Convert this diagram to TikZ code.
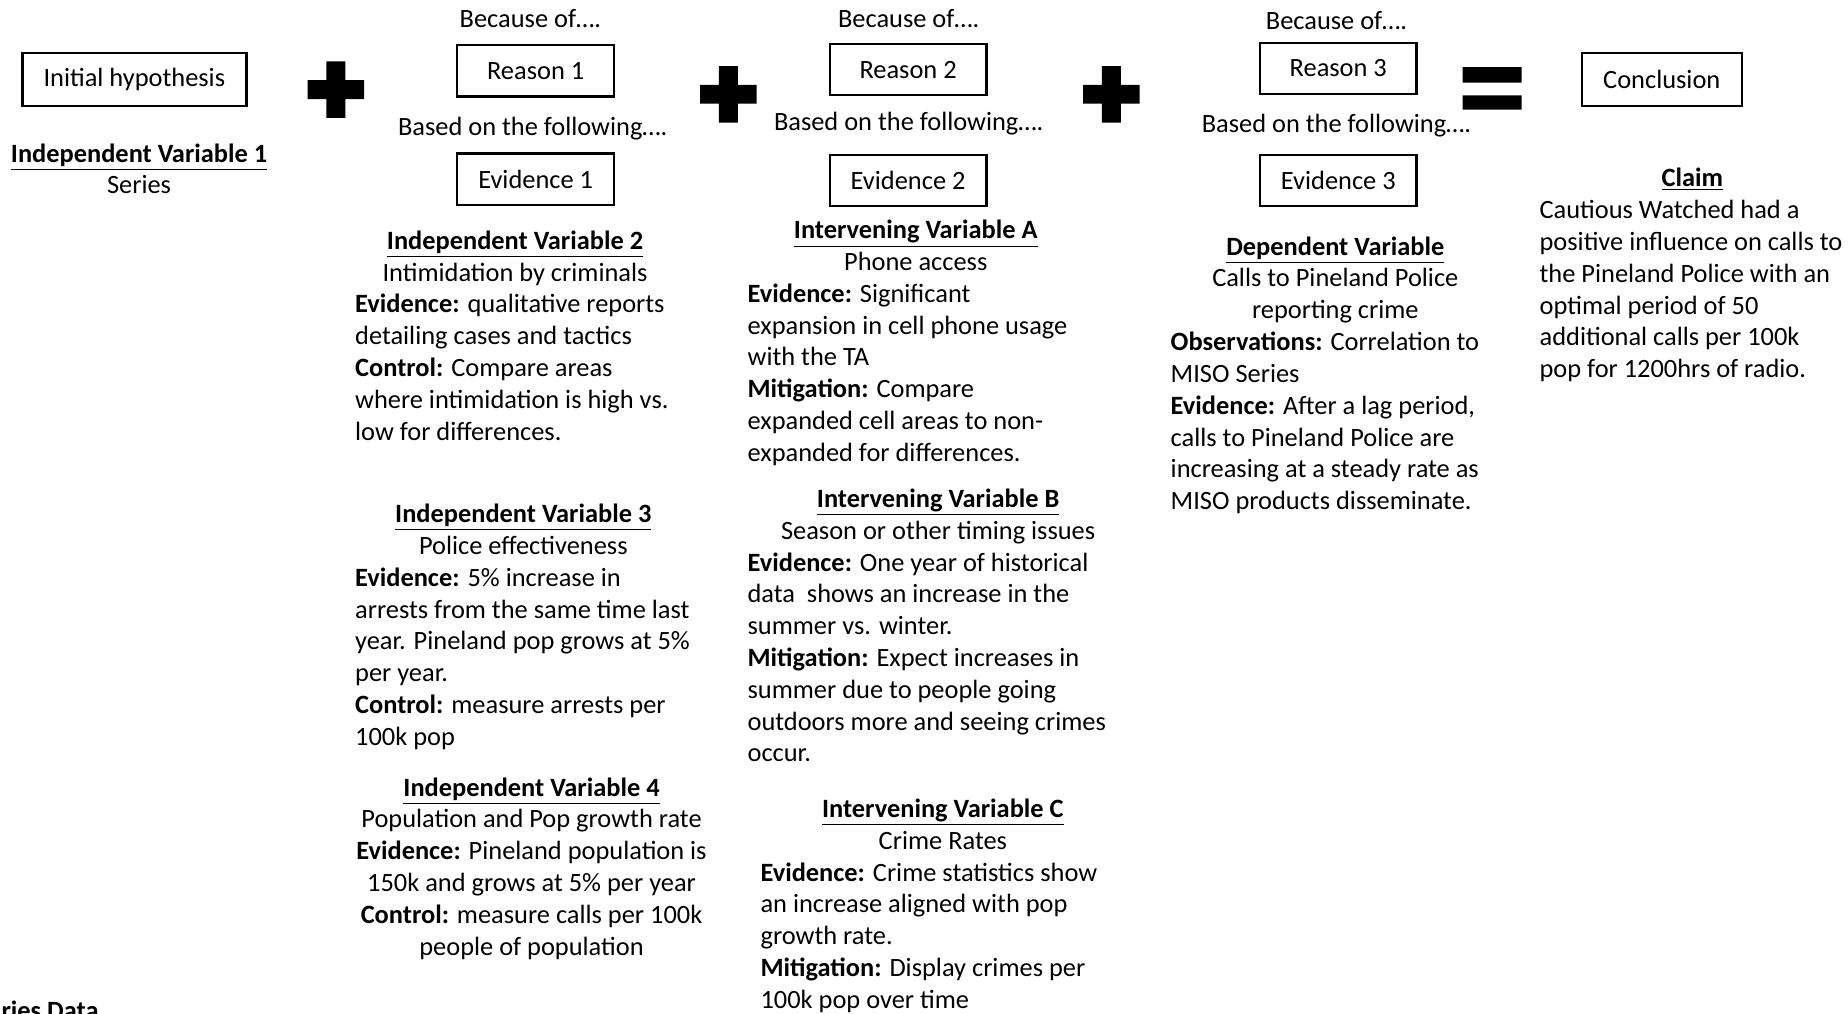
\documentclass[tikz,border=0pt]{standalone}
\usepackage{fontspec}
\setmainfont{Carlito}

\begin{document}
\begin{tikzpicture}[x=0.5893pt, y=-0.5893pt, font=\fontsize{13.2}{15.9}\selectfont,
    box/.style={draw, line width=1.2pt, minimum width=78.4pt, minimum height=25.6pt, inner sep=0pt},
    lbl/.style={inner sep=0pt, text height=11.1pt, text depth=4.8pt},
    blk/.style={inner sep=0pt, align=left, anchor=north west},
    hd/.style={inner sep=0pt, align=center, anchor=north}]
   \useasboundingbox (0,0) rectangle (1568,860);
   % hypothesis
   \node[box, minimum width=112pt, minimum height=26.5pt] (hypo) at (114,67.5) {Initial hypothesis};
   \node[hd] (iv1) at (118,118.3) {\strut\underline{\textbf{Independent Variable 1}}\\Series};
   % plus and equals signs
   \foreach \px/\py in {285/76, 618/80, 943/80}
     \fill (\px-24,\py-8) rectangle (\px+24,\py+8) (\px-8,\py-24) rectangle (\px+8,\py+24);
   \fill (1241,57) rectangle (1291,70) (1241,81) rectangle (1291,93);
   % reason 1
   \node[lbl] (because1) at (450,18) {Because of….};
   \node[box] (reason1) at (454.5,60) {Reason 1};
   \node[lbl] (based1) at (452,110) {Based on the following….};
   \node[box] (evid1) at (454.5,152) {Evidence 1};
   \node[hd] (iv2) at (437,192.3) {\strut\underline{\textbf{Independent Variable 2}}\\Intimidation by criminals};
   \node[blk] (iv2body) at (301,246.3) {\strut\textbf{Evidence:} qualitative reports\\detailing cases and tactics\\
     \textbf{Control:} Compare areas\\where intimidation is high vs.\\low for differences.};
   \node[hd] (iv3) at (444,424.3) {\strut\underline{\textbf{Independent Variable 3}}\\Police effectiveness};
   \node[blk] (iv3body) at (301,478.3) {\strut\textbf{Evidence:} 5\% increase in\\arrests from the same time last\\
     year. Pineland pop grows at 5\%\\per year.\\\textbf{Control:} measure arrests per\\100k pop};
   \node[hd] (iv4) at (451,656.3) {\strut\underline{\textbf{Independent Variable 4}}\\Population and Pop growth rate\\
     \textbf{Evidence:} Pineland population is\\150k and grows at 5\% per year\\
     \textbf{Control:} measure calls per 100k\\people of population};
   % reason 2
   \node[lbl] (because2) at (771,18) {Because of….};
   \node[box] (reason2) at (770.5,59) {Reason 2};
   \node[lbl] (based2) at (771,105) {Based on the following….};
   \node[box] (evid2) at (770.5,153) {Evidence 2};
   \node[hd] (ivA) at (777,183.3) {\strut\underline{\textbf{Intervening Variable A}}\\Phone access};
   \node[blk] (ivAbody) at (634,237.3) {\strut\textbf{Evidence:} Significant\\expansion in cell phone usage\\with the TA\\
     \textbf{Mitigation:} Compare\\expanded cell areas to non-\\expanded for differences.};
   \node[hd] (ivB) at (796,411.3) {\strut\underline{\textbf{Intervening Variable B}}\\Season or other timing issues};
   \node[blk] (ivBbody) at (634,465.3) {\strut\textbf{Evidence:} One year of historical\\data\ \ shows an increase in the\\summer vs. winter.\\
     \textbf{Mitigation:} Expect increases in\\summer due to people going\\outdoors more and seeing crimes\\occur.};
   \node[hd] (ivC) at (800,674.3) {\strut\underline{\textbf{Intervening Variable C}}\\Crime Rates};
   \node[blk] (ivCbody) at (645,728.3) {\strut\textbf{Evidence:} Crime statistics show\\an increase aligned with pop\\growth rate.\\
     \textbf{Mitigation:} Display crimes per\\100k pop over time};
   % reason 3
   \node[lbl] (because3) at (1134,20) {Because of….};
   \node[box] (reason3) at (1135.5,58) {Reason 3};
   \node[lbl] (based3) at (1134,107) {Based on the following….};
   \node[box] (evid3) at (1135.5,153) {Evidence 3};
   \node[hd] (dv) at (1133,197.3) {\strut\underline{\textbf{Dependent Variable}}\\Calls to Pineland Police\\reporting crime};
   \node[blk] (dvbody) at (993,278.3) {\strut\textbf{Observations:} Correlation to\\MISO Series\\
     \textbf{Evidence:} After a lag period,\\calls to Pineland Police are\\increasing at a steady rate as\\MISO products disseminate.};
   % conclusion
   \node[box, minimum width=80.1pt, minimum height=26.5pt] (concl) at (1410,67.5) {Conclusion};
   \node[lbl] (claim) at (1436,153) {\underline{\textbf{Claim}}};
   \node[blk] (claimbody) at (1306,166.3) {\strut Cautious Watched had a\\positive influence on calls to\\the Pineland Police with an\\
     optimal period of 50\\additional calls per 100k\\pop for 1200hrs of radio.};
   \node[lbl, anchor=west] (series) at (1,860) {\textbf{ries Data}};
\end{tikzpicture}
\end{document}
